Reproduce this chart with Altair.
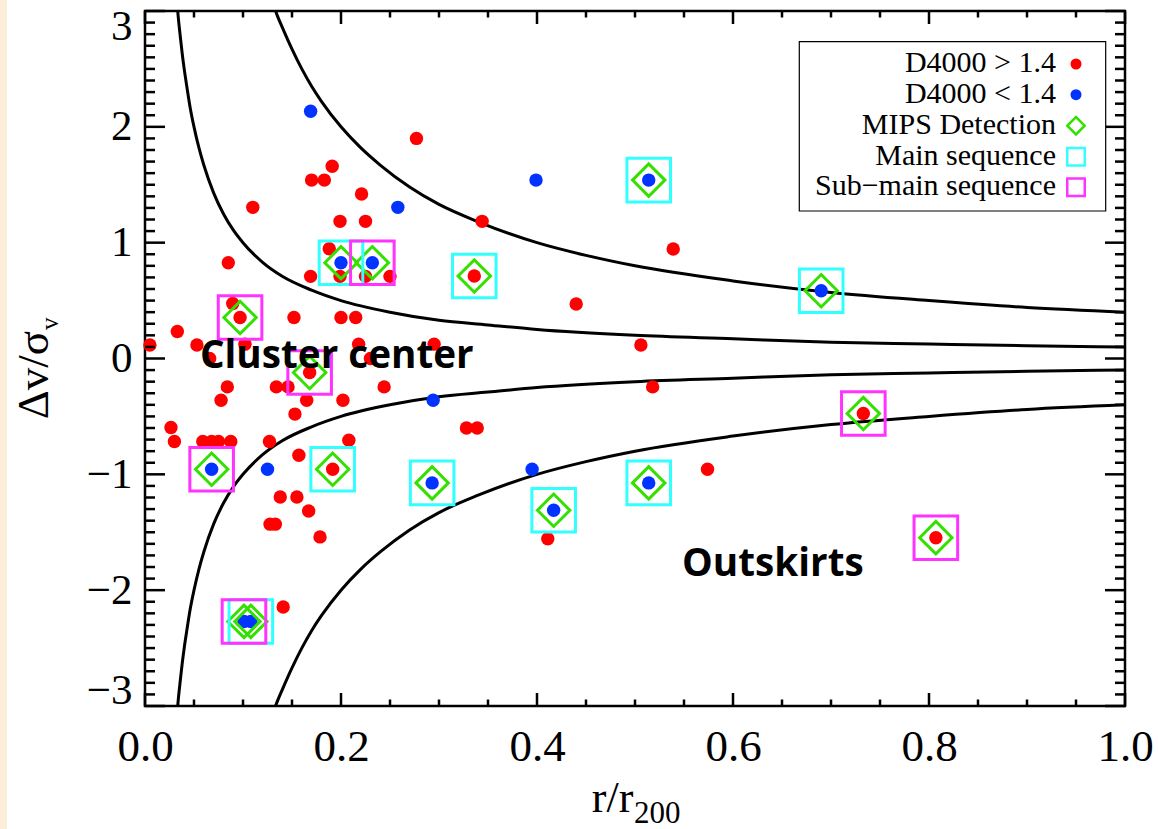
import altair as alt
import pandas as pd

# ---------------- data ----------------
red_r = [0.277, 0.191, 0.170, 0.183, 0.221, 0.110, 0.344, 0.199, 0.225, 0.539,
         0.188, 0.085, 0.169, 0.199, 0.225, 0.250, 0.336, 0.0895, 0.440, 0.097,
         0.152, 0.200, 0.215, 0.033, 0.005, 0.053, 0.102, 0.218, 0.295, 0.506,
         0.066, 0.230, 0.168, 0.084, 0.134, 0.146, 0.244, 0.518, 0.0776, 0.165,
         0.202, 0.153, 0.0265, 0.328, 0.339, 0.030, 0.059, 0.068, 0.075, 0.0875,
         0.127, 0.208, 0.157, 0.1915, 0.574, 0.138, 0.155, 0.167, 0.1276, 0.133,
         0.1786, 0.411, 0.141, 0.733, 0.807]
red_dv = [1.90, 1.66, 1.54, 1.54, 1.42, 1.305, 1.184, 1.184, 1.184, 0.945,
          0.948, 0.827, 0.709, 0.709, 0.709, 0.709, 0.712, 0.475, 0.47, 0.354,
          0.354, 0.354, 0.354, 0.233, 0.116, 0.116, 0.124, 0.124, 0.124, 0.116,
          0.0, 0.0, -0.121, -0.245, -0.245, -0.245, -0.245, -0.245, -0.36, -0.36,
          -0.36, -0.48, -0.596, -0.60, -0.60, -0.717, -0.717, -0.717, -0.717, -0.717,
          -0.717, -0.705, -0.835, -0.956, -0.956, -1.195, -1.195, -1.316, -1.43, -1.43,
          -1.54, -1.556, -2.146, -0.475, -1.547]

blue_r = [0.169, 0.258, 0.399, 0.514, 0.200, 0.232, 0.690, 0.294,
          0.068, 0.125, 0.395, 0.293, 0.514, 0.417, 0.101, 0.108]
blue_dv = [2.135, 1.305, 1.54, 1.54, 0.827, 0.827, 0.585, -0.36,
           -0.956, -0.956, -0.956, -1.074, -1.074, -1.31, -2.27, -2.27]

main_r = [0.514, 0.200, 0.336, 0.690, 0.1915, 0.293, 0.514, 0.417, 0.108]
main_dv = [1.54, 0.827, 0.712, 0.585, -0.956, -1.074, -1.074, -1.31, -2.27]

sub_r = [0.232, 0.097, 0.168, 0.733, 0.068, 0.807, 0.101]
sub_dv = [0.827, 0.354, -0.121, -0.475, -0.956, -1.547, -2.27]

mips_r = main_r + sub_r
mips_dv = main_dv + sub_dv

inner_x = [0.032, 0.034, 0.036, 0.038, 0.04, 0.043, 0.046, 0.05, 0.055, 0.06,
           0.07, 0.08, 0.09, 0.1, 0.12, 0.14, 0.17, 0.2, 0.25, 0.3,
           0.35, 0.4, 0.5, 0.6, 0.7, 0.8, 0.9, 1.0]
inner_y = [3.13, 2.94, 2.78, 2.63, 2.5, 2.33, 2.17, 2.0, 1.82, 1.67,
           1.43, 1.25, 1.11, 1.0, 0.83, 0.71, 0.59, 0.5, 0.4, 0.33,
           0.29, 0.25, 0.2, 0.17, 0.14, 0.125, 0.11, 0.1]
outer_x = [0.13, 0.135, 0.14, 0.15, 0.16, 0.17, 0.18, 0.2, 0.22, 0.24,
           0.27, 0.3, 0.34, 0.4, 0.45, 0.5, 0.6, 0.7, 0.8, 0.9, 1.0]
outer_y = [3.08, 2.96, 2.86, 2.67, 2.5, 2.35, 2.22, 2.0, 1.82, 1.67,
           1.48, 1.33, 1.18, 1.0, 0.89, 0.8, 0.67, 0.57, 0.5, 0.44, 0.4]

x_major = [0.0, 0.2, 0.4, 0.6, 0.8, 1.0]
x_minor = [round(i * 0.05, 2) for i in range(21) if i % 4 != 0]
y_major = [-3, -2, -1, 0, 1, 2, 3]
y_minor = [round(-3 + i * 0.1, 1) for i in range(61) if i % 10 != 0]

legend_labels = ["D4000 > 1.4", "D4000 < 1.4", "MIPS Detection",
                 "Main sequence", "Sub\u2212main sequence"]

# ---------------- styling ----------------
W, H = 980, 695
RED, BLUE = "#ff0000", "#0033ff"
GREEN, CYAN, MAGENTA = "#33e000", "#33ffff", "#ff33ff"
SERIF = "Liberation Serif"

xs = alt.Scale(domain=[0, 1], nice=False, zero=False)
ys = alt.Scale(domain=[-3, 3], nice=False, zero=False)
xaxis = alt.Axis(values=x_major, format=".1f", ticks=False, domain=False, grid=False,
                 labelFont=SERIF, labelFontSize=45, labelColor="black",
                 labelPadding=18, labelFlush=False, title=None)
yaxis = alt.Axis(values=y_major, format="d", ticks=False, domain=False, grid=False,
                 labelFont=SERIF, labelFontSize=43, labelColor="black",
                 labelPadding=13, labelFlush=True, labelFlushOffset=6, title=None)


def X():
    return alt.X("r:Q", scale=xs, axis=xaxis)


def Y():
    return alt.Y("dv:Q", scale=ys, axis=yaxis)


def pts(rr, dd):
    return pd.DataFrame({"r": rr, "dv": dd})


curves = pd.concat([
    pd.DataFrame({"r": inner_x, "dv": inner_y, "c": "a"}),
    pd.DataFrame({"r": inner_x, "dv": [-v for v in inner_y], "c": "b"}),
    pd.DataFrame({"r": outer_x, "dv": outer_y, "c": "c"}),
    pd.DataFrame({"r": outer_x, "dv": [-v for v in outer_y], "c": "d"}),
])

layers = []

# left beige strip of the page
layers.append(alt.Chart(pd.DataFrame({"a": [0]})).mark_rect(color="#fbefd9").encode(
    x=alt.value(-145), x2=alt.value(-138), y=alt.value(-11), y2=alt.value(818)))

lines = alt.Chart(curves).mark_line(color="black", strokeWidth=3, clip=True,
                                    interpolate="monotone").encode(
    x=X(), y=Y(), detail="c:N", order="r:Q")
layers.append(lines)

layers.append(alt.Chart(pts(red_r, red_dv)).mark_point(
    shape="circle", filled=True, color=RED, size=180, opacity=1).encode(x=X(), y=Y()))
layers.append(alt.Chart(pts(blue_r, blue_dv)).mark_point(
    shape="circle", filled=True, color=BLUE, size=180, opacity=1).encode(x=X(), y=Y()))
layers.append(alt.Chart(pts(mips_r, mips_dv)).mark_point(
    shape="diamond", filled=False, color=GREEN, size=1050, strokeWidth=3, opacity=1).encode(x=X(), y=Y()))
layers.append(alt.Chart(pts(main_r, main_dv)).mark_point(
    shape="square", filled=False, color=CYAN, size=1900, strokeWidth=3, opacity=1).encode(x=X(), y=Y()))
layers.append(alt.Chart(pts(sub_r, sub_dv)).mark_point(
    shape="square", filled=False, color=MAGENTA, size=1900, strokeWidth=3, opacity=1).encode(x=X(), y=Y()))

# annotations
ann = pd.DataFrame({"r": [0.056, 0.548], "dv": [-0.08, -1.878],
                    "t": ["Cluster center", "Outskirts"]})
layers.append(alt.Chart(ann).mark_text(
    align="left", baseline="alphabetic", font="Open Sans", fontWeight="bold",
    fontSize=38.7, color="black").encode(x=X(), y=Y(), text="t:N"))

# ticks (inward, all four sides)
tdf_xM = pd.DataFrame({"r": x_major})
tdf_xm = pd.DataFrame({"r": x_minor})
tdf_yM = pd.DataFrame({"dv": y_major})
tdf_ym = pd.DataFrame({"dv": y_minor})
for df, ln in [(tdf_xM, 13), (tdf_xm, 6.5)]:
    layers.append(alt.Chart(df).mark_rule(color="black", strokeWidth=2.5).encode(
        x=X(), y=alt.value(H), y2=alt.value(H - ln)))
    layers.append(alt.Chart(df).mark_rule(color="black", strokeWidth=2.5).encode(
        x=X(), y=alt.value(0), y2=alt.value(ln)))
for df, ln in [(tdf_yM, 20), (tdf_ym, 10)]:
    layers.append(alt.Chart(df).mark_rule(color="black", strokeWidth=2.5).encode(
        y=Y(), x=alt.value(0), x2=alt.value(ln)))
    layers.append(alt.Chart(df).mark_rule(color="black", strokeWidth=2.5).encode(
        y=Y(), x=alt.value(W), x2=alt.value(W - ln)))

# legend box
one = pd.DataFrame({"a": [0]})
layers.append(alt.Chart(one).mark_rect(fill="white", stroke="black", strokeWidth=1.2).encode(
    x=alt.value(654.3), x2=alt.value(960.7), y=alt.value(30.7), y2=alt.value(200)))
row_y = [51.8, 82.5, 113.5, 144.5, 175.0]
sym = [("circle", True, RED, 121, 0), ("circle", True, BLUE, 121, 0),
       ("diamond", False, GREEN, 300, 2.5), ("square", False, CYAN, 306, 2.5),
       ("square", False, MAGENTA, 306, 2.5)]
for lab, yy, (shp, fil, col, sz, sw) in zip(legend_labels, row_y, sym):
    layers.append(alt.Chart(pd.DataFrame({"t": [lab]})).mark_text(
        align="right", baseline="middle", font=SERIF, fontSize=30, color="black").encode(
        x=alt.value(911), y=alt.value(yy), text="t:N"))
    kw = dict(shape=shp, filled=fil, color=col, size=sz, opacity=1)
    if not fil:
        kw["strokeWidth"] = sw
    layers.append(alt.Chart(one).mark_point(**kw).encode(
        x=alt.value(931), y=alt.value(yy + 1.2)))

# axis titles (with subscripts)
layers.append(alt.Chart(pd.DataFrame({"t": ["r/r"]})).mark_text(
    align="right", baseline="alphabetic", font=SERIF, fontSize=44, color="black").encode(
    x=alt.value(488.3), y=alt.value(801.3), text="t:N"))
layers.append(alt.Chart(pd.DataFrame({"t": ["200"]})).mark_text(
    align="left", baseline="alphabetic", font=SERIF, fontSize=31, color="black").encode(
    x=alt.value(489), y=alt.value(812.3), text="t:N"))
layers.append(alt.Chart(pd.DataFrame({"t": ["\u0394v/\u03c3"]})).mark_text(
    align="right", baseline="alphabetic", angle=270, font=SERIF, fontSize=45, color="black").encode(
    x=alt.value(-96.7), y=alt.value(320), text="t:N"))
layers.append(alt.Chart(pd.DataFrame({"t": ["v"]})).mark_text(
    align="left", baseline="alphabetic", angle=270, font=SERIF, fontSize=25, color="black").encode(
    x=alt.value(-86.7), y=alt.value(319), text="t:N"))

chart = alt.layer(*layers).properties(
    width=W, height=H,
    padding={"left": 145, "top": 11, "right": 33, "bottom": 123},
    autosize=alt.AutoSizeParams(type="none"),
    background="white",
).configure_view(stroke="black", strokeWidth=2.5)

chart.save("out.html", embed_options={"renderer": "svg", "actions": False})
